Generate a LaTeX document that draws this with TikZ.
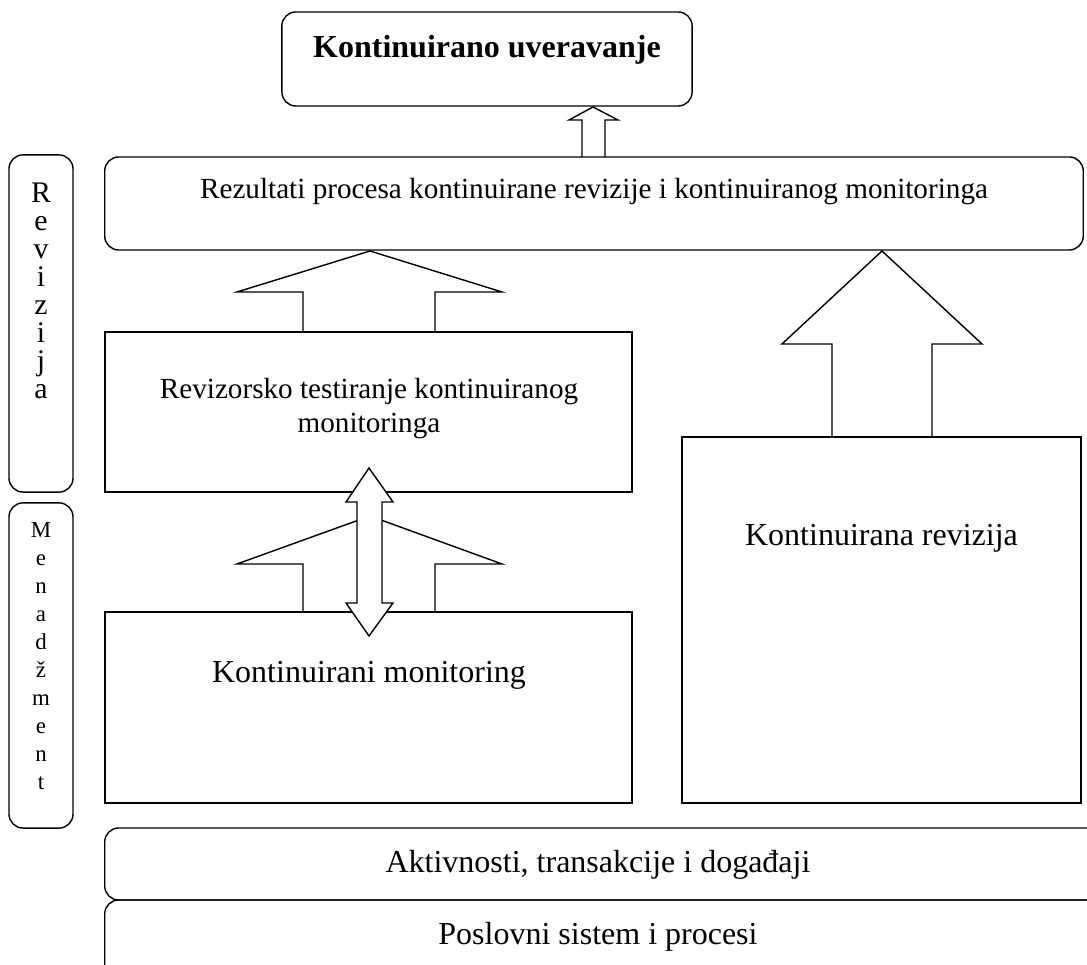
\documentclass[tikz,border=0pt]{standalone}
\usepackage{fontspec}
\setmainfont{Liberation Serif}

\tikzset{
  rbox/.style={draw, rounded corners=0.14cm, inner sep=0pt},
  sbox/.style={draw, inner sep=0pt},
  blk/.style={draw, line join=miter},
  dblk/.style={draw, fill=white, line join=miter},
  smalltxt/.style={anchor=base, inner sep=0pt, font=\fontsize{8.3}{9.7}\selectfont, align=center},
  bigtxt/.style={anchor=base, inner sep=0pt, font=\fontsize{9.1}{10.9}\selectfont},
  vlet/.style={anchor=base, inner sep=0pt},
}

\begin{document}
\begin{tikzpicture}[x=0.01cm, y=-0.01cm]
\useasboundingbox (0,0) rectangle (1087,965);
\clip (0,0) rectangle (1087,965);

% boxes
\node[rbox, minimum width=4.10cm, minimum height=0.94cm] (title) at (487,59) {};
\node[rbox, minimum width=9.78cm, minimum height=0.93cm] (results) at (594,203.5) {};
\node[rbox, minimum width=0.64cm, minimum height=3.37cm] (revizija) at (41,323.5) {};
\node[rbox, minimum width=0.64cm, minimum height=3.25cm] (menadz) at (41,665.5) {};
\node[sbox, minimum width=5.27cm, minimum height=1.60cm] (testing) at (368.5,412) {};
\node[sbox, minimum width=3.99cm, minimum height=3.66cm] (contrev) at (881.5,620) {};
\node[rbox, minimum width=9.95cm, minimum height=0.72cm] (activ) at (602.5,864) {};
\node[rbox, minimum width=9.95cm, minimum height=0.90cm] (poslov) at (602.5,945) {};

% block arrows
\draw[blk] (582,157) |- (569,120) -- (593,107) -- (618,120) -| (605,157);
\draw[blk] (303,332) |- (237,292) -- (370,251) -- (502,292) -| (435,332);
\draw[blk] (832,437) |- (782,344) -- (882,251) -- (982,344) -| (932,437);
\draw[blk] (303,612) |- (237,564) -- (370,516) -- (502,564) -| (435,612);
\node[sbox, minimum width=5.27cm, minimum height=1.91cm] (monitor) at (368.5,707.5) {};
\draw[dblk] (357,502) -- (346,502) -- (369,468) -- (393,502) -- (382,502)
  -- (382,603) -- (393,603) -- (369,636) -- (346,603) -- (357,603) -- cycle;

% texts
\node[anchor=base, inner sep=0pt, font=\fontsize{9.1}{10.9}\selectfont\bfseries] (titletext) at (487,58) {Kontinuirano uveravanje};
\node[smalltxt] (resultstext) at (594,199) {Rezultati procesa kontinuirane revizije i kontinuiranog monitoringa};
\node[smalltxt] (testingtext) at (369,399) {Revizorsko testiranje kontinuiranog};
\node[smalltxt] (testingtext2) at (369,433) {monitoringa};
\node[bigtxt] (monitortext) at (369,683) {Kontinuirani monitoring};
\node[bigtxt] (contrevtext) at (881.5,546) {Kontinuirana revizija};
\node[bigtxt] (activtext) at (598,873) {Aktivnosti, transakcije i događaji};
\node[bigtxt] (poslovtext) at (598,945) {Poslovni sistem i procesi};

% vertical labels
\foreach \l [count=\i] in {R,e,v,i,z,i,j,a}
  \node[vlet, font=\fontsize{8.5}{8.5}\selectfont] (rev\i) at (41,{203+27.9*(\i-1)}) {\l};
\foreach \l [count=\i] in {M,e,n,a,d,ž,m,e,n,t}
  \node[vlet, font=\fontsize{6.5}{6.5}\selectfont] (men\i) at (41,{538+27.9*(\i-1)}) {\l};
\end{tikzpicture}
\end{document}
